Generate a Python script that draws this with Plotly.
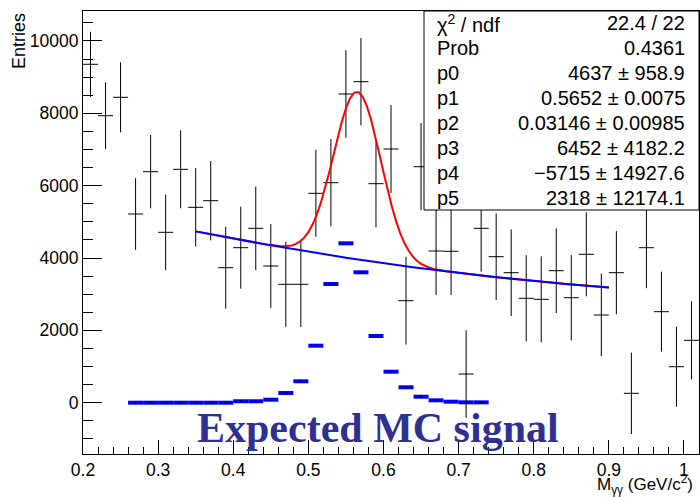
import numpy as np
import plotly.graph_objects as go

# ---------------- data ----------------
bin_centers = [0.21, 0.23, 0.25, 0.27, 0.29, 0.31, 0.33, 0.35, 0.37, 0.39,
               0.41, 0.43, 0.45, 0.47, 0.49, 0.51, 0.53, 0.55, 0.57, 0.59,
               0.61, 0.63, 0.65, 0.67, 0.69, 0.71, 0.73, 0.75, 0.77, 0.79,
               0.81, 0.83, 0.85, 0.87, 0.89, 0.91, 0.93, 0.95, 0.97, 0.99, 1.01]
entries = [9355, 7934, 8442, 5216, 6386, 4710, 6451, 5401, 5584, 3732,
           4285, 4821, 3779, 3273, 3273, 5788, 6082, 8534, 8874, 6054,
           7013, 2820, 6524, 4193, 4185, 793, 4821, 4036, 3594, 2886,
           2858, 3649, 2903, 4102, 2424, 3594, 260, 4285, 2516, 995, 1724]
entry_errors = [899, 920, 967, 990, 1014, 1046, 1078, 1083, 1097, 1129,
                1133, 1156, 1156, 1175, 1180, 1198, 1207, 1211, 1207, 1205,
                1216, 1211, 1207, 1216, 1210, 1211, 1200, 1197, 1197, 1190,
                1190, 1170, 1180, 1161, 1142, 1150, 1125, 1120, 1106, 1106, 1080]
bin_half_width = 0.01

mc_centers = [0.27, 0.29, 0.31, 0.33, 0.35, 0.37, 0.39, 0.41, 0.43, 0.45,
              0.47, 0.49, 0.51, 0.53, 0.55, 0.57, 0.59, 0.61, 0.63, 0.65,
              0.67, 0.69, 0.71, 0.73]
mc_values = [0, 0, 0, 0, 0, 0, 0, 40, 40, 83,
             268, 592, 1576, 3281, 4406, 3605, 1844, 857, 426, 166,
             66, 28, 10, 10]

# fit: gaus(p0,p1,p2) + pol2(p3,p4,p5), parameters from the stats box
fit_params = [4637, 0.5652, 0.03146, 6452, -5715, 2318]
fit_range = [0.35, 0.90]
fit_npx = 100

stats_labels = ["χ<sup>2</sup> / ndf", "Prob", "p0", "p1", "p2", "p3", "p4", "p5"]
stats_values = ["22.4 / 22", "0.4361", "4637 ± 958.9", "0.5652 ± 0.0075",
                "0.03146 ± 0.00985", "6452 ± 4182.2", "−5715 ± 14927.6",
                "2318 ± 12174.1"]

x_ticks = [0.2, 0.3, 0.4, 0.5, 0.6, 0.7, 0.8, 0.9, 1.0]
x_ticktext = ["0.2", "0.3", "0.4", "0.5", "0.6", "0.7", "0.8", "0.9", "1"]
y_ticks = [0, 2000, 4000, 6000, 8000, 10000]
y_ticktext = ["0", "2000", "4000", "6000", "8000", "10000"]

# ---------------- layout geometry ----------------
W, H = 700, 497
ML, MR, MT, MB = 83, 1, 11, 43
PW, PH = W - ML - MR, H - MT - MB
XR = [0.2, 1.02]
YR = [-1418, 10828]


def px_x(px):
    return (px - ML) / PW


def px_y(py):
    return (H - MB - py) / PH


SANS = "Liberation Sans, Arial, Helvetica, sans-serif"
SERIF = "Liberation Serif, Times New Roman, serif"

# fit curves
p = fit_params
xs = np.linspace(fit_range[0], fit_range[1], fit_npx)
bg = p[3] + p[4] * xs + p[5] * xs ** 2
total = p[0] * np.exp(-0.5 * ((xs - p[1]) / p[2]) ** 2) + bg

fig = go.Figure()

fig.add_trace(go.Scatter(
    x=mc_centers, y=mc_values, mode="markers",
    marker=dict(size=2, color="black"),
    error_x=dict(type="constant", value=bin_half_width, color="#0000ff",
                 thickness=4, width=0),
    showlegend=False, hoverinfo="skip"))

fig.add_trace(go.Scatter(
    x=bin_centers, y=entries, mode="markers",
    marker=dict(size=1, color="black"),
    error_y=dict(type="data", array=entry_errors, color="black",
                 thickness=1, width=0),
    error_x=dict(type="constant", value=bin_half_width, color="black",
                 thickness=1, width=0),
    showlegend=False))

fig.add_trace(go.Scatter(x=xs, y=total, mode="lines",
                         line=dict(color="#ff0000", width=2), showlegend=False))
fig.add_trace(go.Scatter(x=xs, y=bg, mode="lines",
                         line=dict(color="#0000ff", width=2), showlegend=False))

# stats box
box_x0 = px_x(424)
box_y0 = px_y(210)
shapes = [dict(type="rect", xref="paper", yref="paper",
               x0=box_x0, x1=1.0, y0=box_y0, y1=1.0,
               fillcolor="white", line=dict(color="black", width=1),
               layer="above")]

annotations = []
row_y = [23.3 + 25 * i for i in range(len(stats_labels))]
for lab, val, ry in zip(stats_labels, stats_values, row_y):
    annotations.append(dict(xref="paper", yref="paper", x=px_x(435), y=px_y(ry),
                            xanchor="left", yanchor="middle", text=lab,
                            showarrow=False, font=dict(family=SANS, size=20, color="black")))
    annotations.append(dict(xref="paper", yref="paper", x=px_x(687), y=px_y(ry),
                            xanchor="right", yanchor="middle", text=val,
                            showarrow=False, font=dict(family=SANS, size=20, color="black")))

annotations.append(dict(xref="paper", yref="paper", x=px_x(195), y=px_y(428),
                        xanchor="left", yanchor="middle",
                        text="<b>Expected MC signal</b>", showarrow=False,
                        font=dict(family=SERIF, size=42, color="#2e3192")))

annotations.append(dict(xref="paper", yref="paper", x=px_x(19), y=1.0,
                        xanchor="center", yanchor="top", textangle=-90,
                        text="Entries", showarrow=False,
                        font=dict(family=SANS, size=18, color="black")))

annotations.append(dict(xref="paper", yref="paper", x=px_x(695), y=px_y(484.5),
                        xanchor="right", yanchor="middle",
                        text="M<sub>γγ</sub> (GeV/c<sup>2</sup>)", showarrow=False,
                        font=dict(family=SANS, size=17, color="black")))

# cut-off title fragment at the very top (only its descenders are visible)
annotations.append(dict(xref="paper", yref="paper", x=px_x(265), y=px_y(1.5),
                        xanchor="center", yanchor="bottom",
                        text="<b>pp,</b>", showarrow=False,
                        font=dict(family=SERIF, size=40, color="black")))

axis_common = dict(showgrid=False, zeroline=False, showline=True, linecolor="black",
                   linewidth=1, mirror=True, ticks="inside", tickcolor="black",
                   tickwidth=1, tickfont=dict(family=SANS, size=17.5, color="black"))

fig.update_layout(
    width=W, height=H,
    margin=dict(l=ML, r=MR, t=MT, b=MB, pad=0),
    paper_bgcolor="white", plot_bgcolor="white",
    xaxis=dict(range=XR, tickvals=x_ticks, ticktext=x_ticktext, ticklen=14,
               minor=dict(ticks="inside", ticklen=7, dtick=0.02, tick0=0.2,
                          tickcolor="black", showgrid=False),
               **axis_common),
    yaxis=dict(range=YR, tickvals=y_ticks, ticktext=y_ticktext, ticklen=19,
               minor=dict(ticks="inside", ticklen=10, dtick=500, tick0=0,
                          tickcolor="black", showgrid=False),
               **axis_common),
    shapes=shapes,
    annotations=annotations,
    showlegend=False,
)

fig.write_html("out.html")
